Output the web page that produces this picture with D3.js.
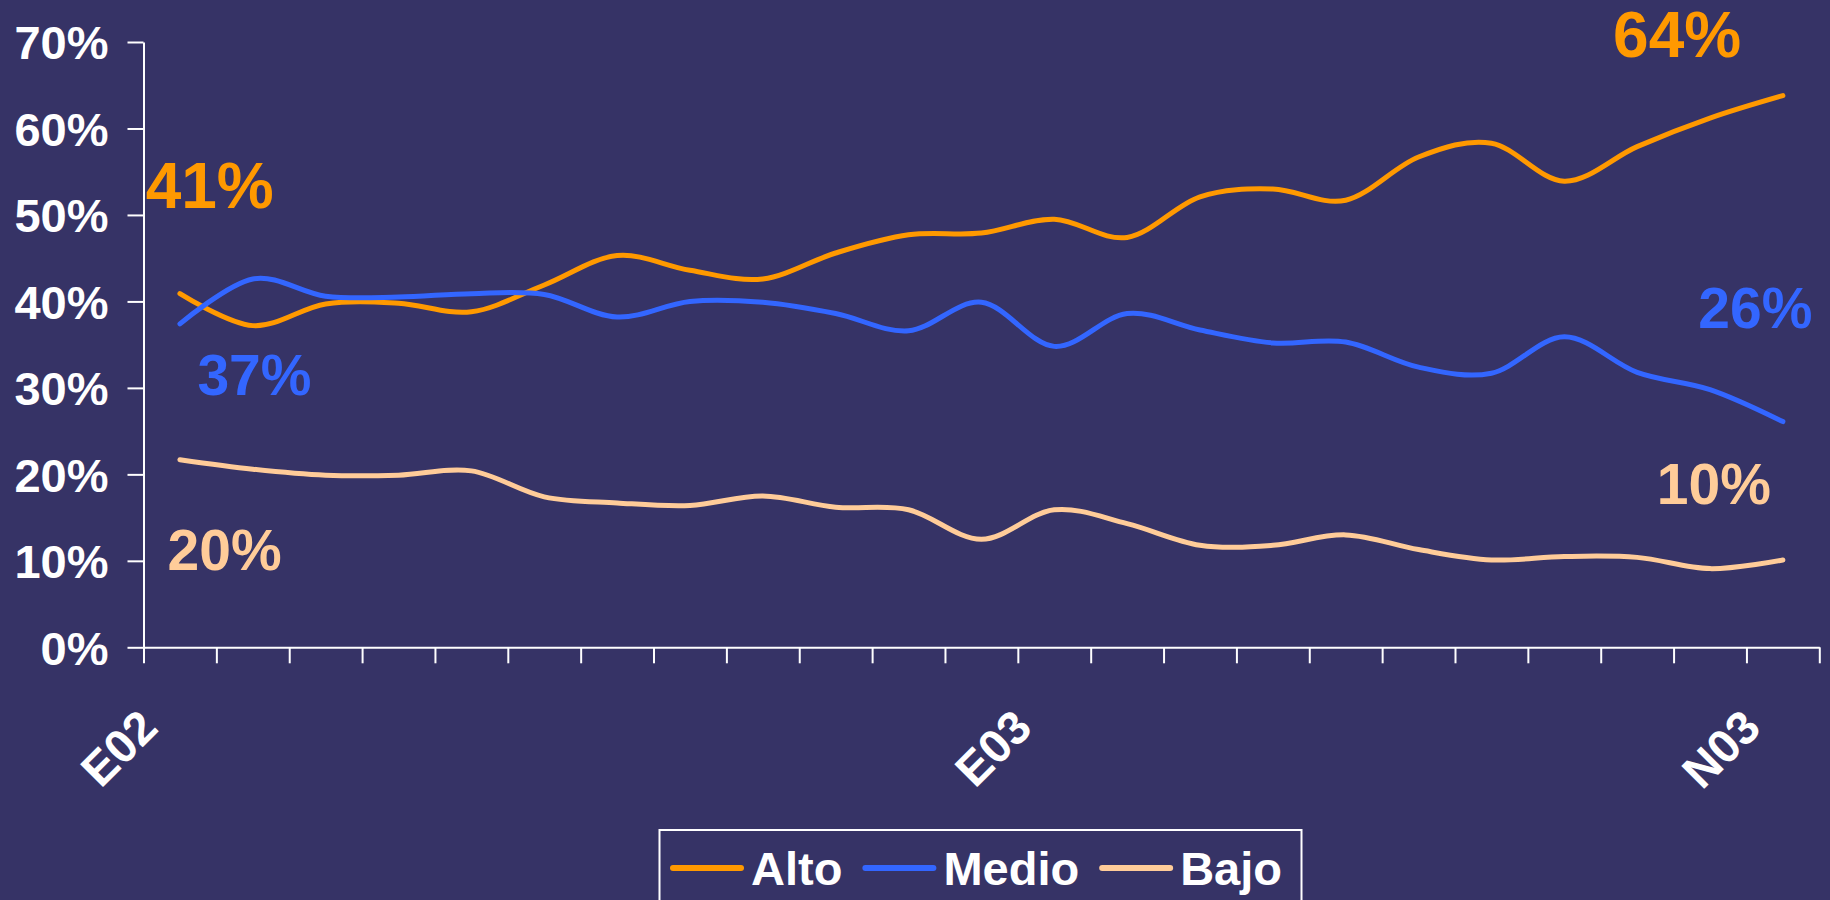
<!DOCTYPE html>
<html>
<head>
<meta charset="utf-8">
<script src="https://cdn.jsdelivr.net/npm/d3@7/dist/d3.min.js"></script>
<style>
	html, body { margin: 0; padding: 0; background: #363366; }
	svg { display: block; font-family: "Liberation Sans", Arial, sans-serif; font-weight: bold; }
</style>
</head>
<body>
<svg id="chart" width="1830" height="900"></svg>
<script>
// monthly series, E02 .. N03
var months = ["E02", "F02", "M02", "A02", "M02", "J02", "J02", "A02", "S02", "O02", "N02", "D02",
	"E03", "F03", "M03", "A03", "M03", "J03", "J03", "A03", "S03", "O03", "N03"];
var shownLabels = ["E02", "E03", "N03"];
var shownIndex = [0, 12, 22];

var alto = [40.9, 37.2, 39.7, 39.8, 38.8, 41.9, 45.3, 43.6, 42.6, 45.6, 47.7, 47.9,
	49.5, 47.4, 52.1, 53.0, 51.7, 56.7, 58.3, 53.9, 57.9, 61.2, 63.8];
var medio = [37.4, 42.6, 40.6, 40.5, 40.9, 40.8, 38.2, 40.0, 39.9, 38.6, 36.6, 39.9,
	34.8, 38.6, 36.7, 35.2, 35.3, 32.4, 31.7, 35.9, 31.8, 29.8, 26.1];
var bajo = [21.7, 20.6, 19.9, 19.9, 20.4, 17.4, 16.7, 16.4, 17.5, 16.2, 15.9, 12.5,
	15.9, 14.3, 11.8, 11.8, 13.0, 11.3, 10.1, 10.5, 10.4, 9.1, 10.1];

var seriesNames = ["Alto", "Medio", "Bajo"];
var seriesColors = ["#FF9900", "#3366FF", "#FFCC99"];
var yTicks = [0, 10, 20, 30, 40, 50, 60, 70];

// start / end value call-outs (text, series index, month position, value at baseline, size)
var noteText = ["41%", "37%", "20%", "64%", "26%", "10%"];
var noteSeries = [0, 1, 2, 0, 1, 2];
var noteMonth = [-0.47, 0.24, -0.17, 19.67, 20.84, 20.27];
var noteValue = [50.8, 29.2, 8.9, 68.3, 36.9, 16.6];
var noteSize = [64, 57, 57, 64, 57, 57];

var svg = d3.select('#chart');
var x = d3.scaleLinear().domain([-0.5, months.length - 0.5]).range([143.5, 1819.3]);
var y = d3.scaleLinear().domain([0, 70]).range([647.3, 42]);

svg.append('rect')
	.attr('width', 1830).attr('height', 900)
	.attr('fill', '#363366');

// y axis
var yAxis = svg.append('g')
	.attr('transform', 'translate(' + x(-0.5) + ',0)')
	.call(d3.axisLeft(y).tickValues(yTicks).tickSize(16).tickSizeOuter(0).tickPadding(19)
		.tickFormat(function (d) { return d + '%'; }));
yAxis.selectAll('path, line').attr('stroke', '#ffffff').attr('stroke-width', 2);
yAxis.selectAll('text')
	.attr('fill', '#ffffff')
	.style('font-size', '47px')
	.style('font-family', '"Liberation Sans", Arial, sans-serif')
	.style('font-weight', 'bold')
	.attr('dy', '0.36em');

// x axis, tick marks between the months
var edges = d3.range(months.length + 1).map(function (i) { return i - 0.5; });
var xAxis = svg.append('g')
	.attr('transform', 'translate(0,' + y(0) + ')')
	.call(d3.axisBottom(x).tickValues(edges).tickSize(16).tickSizeOuter(0).tickFormat(''));
xAxis.selectAll('path, line').attr('stroke', '#ffffff').attr('stroke-width', 2);

svg.selectAll('.xlab')
	.data(shownIndex)
	.enter().append('text')
	.attr('class', 'xlab')
	.attr('transform', function (d) { return 'translate(' + (x(d) - 20) + ',730) rotate(-45)'; })
	.attr('text-anchor', 'end')
	.attr('fill', '#ffffff')
	.style('font-size', '47px')
	.text(function (d, i) { return shownLabels[i]; });

// lines
var line = d3.line()
	.x(function (d, i) { return x(i); })
	.y(function (d) { return y(d); })
	.curve(d3.curveCardinal.tension(0));

[alto, medio, bajo].forEach(function (s, k) {
	svg.append('path')
		.datum(s)
		.attr('d', line)
		.attr('fill', 'none')
		.attr('stroke', seriesColors[k])
		.attr('stroke-width', 5)
		.attr('stroke-linecap', 'round')
		.attr('stroke-linejoin', 'round');
});

// call-outs
svg.selectAll('.note')
	.data(noteText)
	.enter().append('text')
	.attr('class', 'note')
	.attr('x', function (d, i) { return x(noteMonth[i]); })
	.attr('y', function (d, i) { return y(noteValue[i]); })
	.attr('fill', function (d, i) { return seriesColors[noteSeries[i]]; })
	.style('font-size', function (d, i) { return noteSize[i] + 'px'; })
	.text(function (d) { return d; });

// legend
var legend = svg.append('g');
legend.append('rect')
	.attr('x', 659.5).attr('y', 830)
	.attr('width', 642).attr('height', 120)
	.attr('fill', 'none')
	.attr('stroke', '#ffffff')
	.attr('stroke-width', 2);
var lx = 673;
seriesNames.forEach(function (name, k) {
	legend.append('line')
		.attr('x1', lx).attr('x2', lx + 68)
		.attr('y1', 868).attr('y2', 868)
		.attr('stroke', seriesColors[k])
		.attr('stroke-width', 6)
		.attr('stroke-linecap', 'round');
	var t = legend.append('text')
		.attr('x', lx + 78).attr('y', 885)
		.attr('fill', '#ffffff')
		.style('font-size', '47px')
		.text(name);
	lx = lx + 78 + t.node().getComputedTextLength() + 23;
});
</script>
</body>
</html>
